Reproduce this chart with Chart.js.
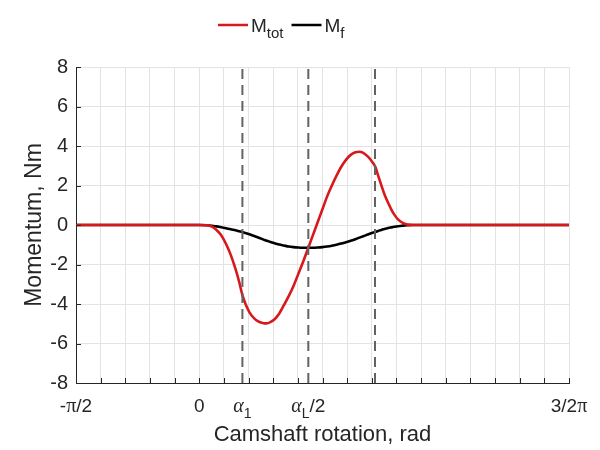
<!DOCTYPE html>
<html>
<head>
<meta charset="utf-8">
<script src="https://cdn.jsdelivr.net/npm/chart.js@4.4.1/dist/chart.umd.min.js"></script>
<style>
  html, body { margin: 0; padding: 0; background: #ffffff; }
  #wrap { width: 600px; height: 450px; }
</style>
</head>
<body>
<div id="wrap"><canvas id="c" width="600" height="450"></canvas></div>
<script>
// ---- data (camshaft angle in rad, moments in Nm) ----
const angle = [-1.571, 0, 0.10, 0.16, 0.22, 0.28, 0.34, 0.40, 0.46, 0.51, 0.55, 0.59, 0.64, 0.70, 0.76,
  0.82, 0.86, 0.90, 0.96, 1.02, 1.08, 1.14, 1.20, 1.26, 1.32, 1.39, 1.45, 1.51, 1.57, 1.63, 1.69,
  1.75, 1.81, 1.87, 1.93, 1.99, 2.04, 2.09, 2.15, 2.20, 2.245, 2.28, 2.32, 2.36, 2.41, 2.45, 2.49,
  2.53, 2.58, 2.62, 2.66, 2.72, 4.712];
const mTot = [0, 0, -0.01, -0.08, -0.25, -0.52, -0.95, -1.5, -2.2, -2.9, -3.55, -4.0, -4.42, -4.73, -4.9,
  -4.97, -4.98, -4.93, -4.77, -4.48, -4.05, -3.6, -3.1, -2.5, -1.9, -1.15, -0.5, 0.15, 0.8, 1.45, 2.0,
  2.5, 2.95, 3.3, 3.55, 3.68, 3.71, 3.65, 3.46, 3.22, 2.94, 2.5, 2.02, 1.56, 1.1, 0.77, 0.5,
  0.3, 0.14, 0.06, 0.02, 0, 0];
const mF = [0, 0, -0.01, -0.04, -0.07, -0.11, -0.16, -0.22, -0.27, -0.32, -0.36, -0.41, -0.47, -0.56, -0.65,
  -0.74, -0.8, -0.85, -0.92, -0.99, -1.04, -1.09, -1.12, -1.14, -1.15, -1.15, -1.15, -1.14, -1.12, -1.09, -1.05,
  -1.0, -0.94, -0.87, -0.8, -0.72, -0.64, -0.57, -0.48, -0.41, -0.35, -0.3, -0.25, -0.2, -0.15, -0.12, -0.09,
  -0.06, -0.04, -0.02, -0.01, 0, 0];
const markerAngles = [0.55, 1.39, 2.24];          // alpha_1, alpha_L/2, alpha_L - alpha_1
const xLabelValues = [-Math.PI / 2, 0, 0.55, 1.39, 1.5 * Math.PI];
const xLabelTexts = ['-π/2', '0', 'α_1', 'α_L/2', '3/2π'];
const legendLabels = ['M_{tot}', 'M_f'];
const seriesColors = ['#d7191c', '#000000'];
const yMin = -8, yMax = 8, yStep = 2;
const xMin = -Math.PI / 2, xMax = 1.5 * Math.PI;

const SANS = '"Liberation Sans", Arial, Helvetica, sans-serif';
const SERIF = '"Liberation Serif", "Times New Roman", serif';
const TXT = '#262626';

const gridAngles = Array.from({ length: 21 }, (_, i) => xMin + i * Math.PI / 10);

function parseRich(text) {
  const parts = [];
  let i = 0;
  while (i < text.length) {
    let ch = text[i];
    if (ch === '_') {
      let sub;
      if (text[i + 1] === '{') {
        const end = text.indexOf('}', i);
        sub = text.slice(i + 2, end);
        i = end + 1;
      } else { sub = text[i + 1]; i += 2; }
      parts.push({ t: sub, sub: true, greek: false });
      continue;
    }
    const greek = /[α-ωπ]/.test(ch);
    const last = parts[parts.length - 1];
    if (last && !last.sub && last.greek === greek) last.t += ch;
    else parts.push({ t: ch, sub: false, greek: greek });
    i++;
  }
  return parts;
}
function fontFor(p, size, subSize) {
  if (p.sub) return subSize + 'px ' + SANS;
  if (p.greek) return (p.t.indexOf('α') >= 0 ? 'italic ' : '') + (size + 1) + 'px ' + SERIF;
  return size + 'px ' + SANS;
}
function drawRich(ctx, text, x, y, size, subSize, align) {
  const parts = parseRich(text);
  let total = 0;
  parts.forEach(p => { ctx.font = fontFor(p, size, subSize); p.w = ctx.measureText(p.t).width; total += p.w; });
  let cx = align === 'left' ? x : x - total / 2;
  ctx.textAlign = 'left';
  ctx.textBaseline = 'alphabetic';
  parts.forEach(p => {
    ctx.font = fontFor(p, size, subSize);
    ctx.fillText(p.t, cx, y + (p.sub ? size * 0.32 : 0));
    cx += p.w;
  });
  return total;
}

const overlay = {
  id: 'overlay',
  afterDraw(chart) {
    const ctx = chart.ctx, xs = chart.scales.x, ys = chart.scales.y, ca = chart.chartArea;
    ctx.save();
    ctx.strokeStyle = TXT;
    ctx.lineWidth = 1;
    xs.ticks.forEach(t => {
      const px = Math.round(xs.getPixelForValue(t.value)) + 0.5;
      ctx.beginPath(); ctx.moveTo(px, ca.bottom); ctx.lineTo(px, ca.bottom - 5); ctx.stroke();
    });
    ys.ticks.forEach(t => {
      const py = Math.round(ys.getPixelForValue(t.value)) + 0.5;
      ctx.beginPath(); ctx.moveTo(ca.left, py); ctx.lineTo(ca.left + 5, py); ctx.stroke();
    });
    ctx.fillStyle = TXT;
    xLabelValues.forEach((v, i) => {
      drawRich(ctx, xLabelTexts[i], xs.getPixelForValue(v), ca.bottom + 29, 19, 14, 'center');
    });
    // legend
    let lx = 218;
    const ly = 25;
    legendLabels.forEach((lab, i) => {
      ctx.strokeStyle = seriesColors[i];
      ctx.lineWidth = 2.5;
      ctx.beginPath(); ctx.moveTo(lx, ly); ctx.lineTo(lx + 30, ly); ctx.stroke();
      lx += 33;
      ctx.fillStyle = TXT;
      const w = drawRich(ctx, lab, lx, ly + 7, 19, 15, 'left');
      lx += w + 8;
    });
    ctx.restore();
  }
};

const pts = ys => angle.map((a, i) => ({ x: a, y: ys[i] }));
const dashSets = markerAngles.map(a => ({
  label: 'marker',
  data: [{ x: a, y: yMin }, { x: a, y: yMax }],
  borderColor: '#636363',
  borderWidth: 2,
  borderDash: [10, 6],
  pointRadius: 0,
  fill: false
}));

new Chart(document.getElementById('c'), {
  type: 'line',
  data: {
    datasets: [
      ...dashSets,
      { label: 'M_tot', data: pts(mTot), borderColor: seriesColors[0], borderWidth: 2.6, pointRadius: 0,
        cubicInterpolationMode: 'monotone', fill: false },
      { label: 'M_f', data: pts(mF), borderColor: seriesColors[1], borderWidth: 2.6, pointRadius: 0,
        cubicInterpolationMode: 'monotone', fill: false }
    ]
  },
  options: {
    responsive: false,
    animation: false,
    devicePixelRatio: 1,
    layout: { padding: { top: 67, right: 31, bottom: 0, left: 0 } },
    plugins: { legend: { display: false }, tooltip: { enabled: false } },
    scales: {
      x: {
        type: 'linear', min: xMin, max: xMax,
        afterBuildTicks(scale) { scale.ticks = gridAngles.map(v => ({ value: v })); },
        afterFit(scale) { scale.height = 67; },
        ticks: { display: false },
        grid: { color: '#e3e3e3', lineWidth: 1, drawTicks: false },
        border: { display: true, color: TXT, width: 1 },
        title: { display: true, text: 'Camshaft rotation, rad', color: TXT,
          font: { family: SANS, size: 22 }, padding: { top: 0, bottom: 2 } }
      },
      y: {
        type: 'linear', min: yMin, max: yMax,
        afterFit(scale) { scale.width = 76; },
        ticks: { stepSize: yStep, color: TXT, padding: 8, font: { family: SANS, size: 20 } },
        grid: { color: '#e3e3e3', lineWidth: 1, drawTicks: false },
        border: { display: true, color: TXT, width: 1 },
        title: { display: true, text: 'Momentum, Nm', color: TXT,
          font: { family: SANS, size: 23 }, padding: { top: 21, bottom: 0 } }
      }
    }
  },
  plugins: [overlay]
});
</script>
</body>
</html>
